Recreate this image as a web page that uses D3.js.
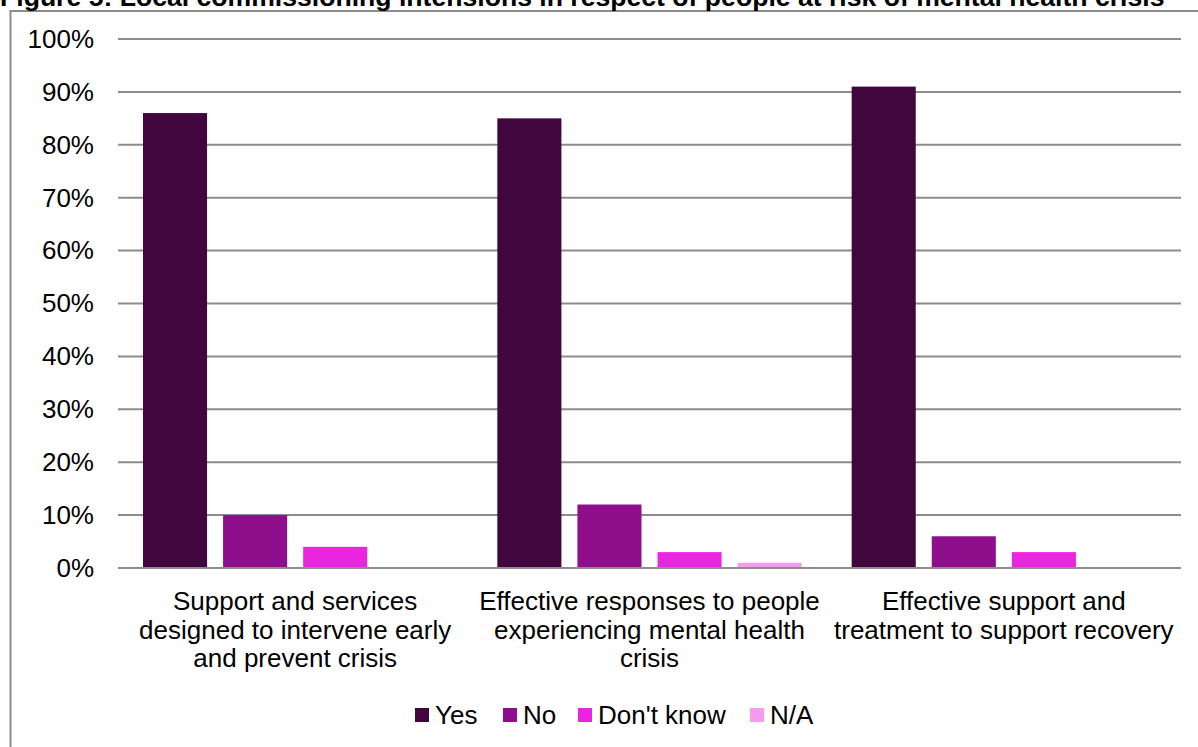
<!DOCTYPE html>
<html><head><meta charset="utf-8">
<script src="https://cdn.jsdelivr.net/npm/d3@7"></script>
<style>body{margin:0;background:#fff;} svg{display:block;font-family:"Liberation Sans",Arial,sans-serif;}</style>
</head><body>
<svg id="c" width="1198" height="747"></svg>
<script>
const title = "Figure 5: Local commissioning intensions in respect of people at risk of mental health crisis";
const categories = ["Support and services designed to intervene early and prevent crisis",
  "Effective responses to people experiencing mental health crisis",
  "Effective support and treatment to support recovery"];
const categoryLines = [
  ["Support and services", "designed to intervene early", "and prevent crisis"],
  ["Effective responses to people", "experiencing mental health", "crisis"],
  ["Effective support and", "treatment to support recovery"]
];
const seriesNames = ["Yes", "No", "Don't know", "N/A"];
const yesValues = [86, 85, 91];
const noValues = [10, 12, 6];
const dontKnowValues = [4, 3, 3];
const naValues = [0, 1, 0];
const seriesColors = ["#42063f", "#8e0e8c", "#e925e0", "#f59bf0"];
const yTicks = [0,10,20,30,40,50,60,70,80,90,100];

const series = [yesValues, noValues, dontKnowValues, naValues];
const svg = d3.select("#c");
const FS = 26;

// chart border
svg.append("rect").attr("x",10.5).attr("y",11).attr("width",1200).attr("height",760)
  .attr("fill","none").attr("stroke","#8c8c8c").attr("stroke-width",2);

svg.append("text").attr("x",0).attr("y",6).attr("font-weight","bold").attr("font-size",26.6)
  .attr("fill","#000").text(title);

const pLeft = 118, pRight = 1181, pTop = 39, pBottom = 568;
const x0 = d3.scaleBand().domain(d3.range(categories.length)).range([pLeft,pRight]).paddingInner(0).paddingOuter(0);
const x1 = d3.scaleBand().domain(d3.range(seriesNames.length)).range([25, x0.bandwidth()-25]).paddingInner(0.2).paddingOuter(0);
const y = d3.scaleLinear().domain([0,100]).range([pBottom,pTop]);

// gridlines
svg.append("g").selectAll("line").data(yTicks.filter(d=>d>0)).join("line")
  .attr("x1",pLeft).attr("x2",pRight).attr("y1",d=>y(d)).attr("y2",d=>y(d))
  .attr("stroke","#8c8c8c").attr("stroke-width",2);

// y axis labels
const yAxis = d3.axisLeft(y).tickValues(yTicks).tickFormat(d=>d+"%").tickSize(0).tickPadding(24);
const ya = svg.append("g").attr("transform",`translate(${pLeft},0)`).call(yAxis);
ya.select(".domain").remove();
ya.selectAll("text").attr("font-size",FS).attr("font-family","'Liberation Sans',Arial,sans-serif").attr("fill","#000");

// bars
const groups = svg.append("g").selectAll("g").data(categories.map((c,i)=>i)).join("g")
  .attr("transform",i=>`translate(${x0(i)},0)`);
groups.selectAll("rect").data(i=>series.map((s,k)=>({k, v:s[i]}))).join("rect")
  .attr("x",d=>x1(d.k)).attr("width",x1.bandwidth())
  .attr("y",d=>y(d.v)).attr("height",d=>pBottom-y(d.v))
  .attr("fill",d=>seriesColors[d.k]);

// baseline axis
svg.append("line").attr("x1",pLeft).attr("x2",pRight).attr("y1",pBottom).attr("y2",pBottom)
  .attr("stroke","#8c8c8c").attr("stroke-width",2);

// category labels
const xl = svg.append("g");
categoryLines.forEach((lines,i)=>{
  const t = xl.append("text").attr("x",x0(i)+x0.bandwidth()/2).attr("text-anchor","middle")
    .attr("font-size",FS).attr("fill","#000");
  lines.forEach((ln,j)=>t.append("tspan").attr("x",x0(i)+x0.bandwidth()/2).attr("y",610+j*28.5).text(ln));
});

// legend
const legendX = [415, 503, 578, 750];
const lg = svg.append("g");
seriesNames.forEach((n,k)=>{
  lg.append("rect").attr("x",legendX[k]).attr("y",708).attr("width",14).attr("height",14).attr("fill",seriesColors[k]);
  lg.append("text").attr("x",legendX[k]+20).attr("y",724).attr("font-size",FS).attr("fill","#000").text(n);
});
</script>
</body></html>
